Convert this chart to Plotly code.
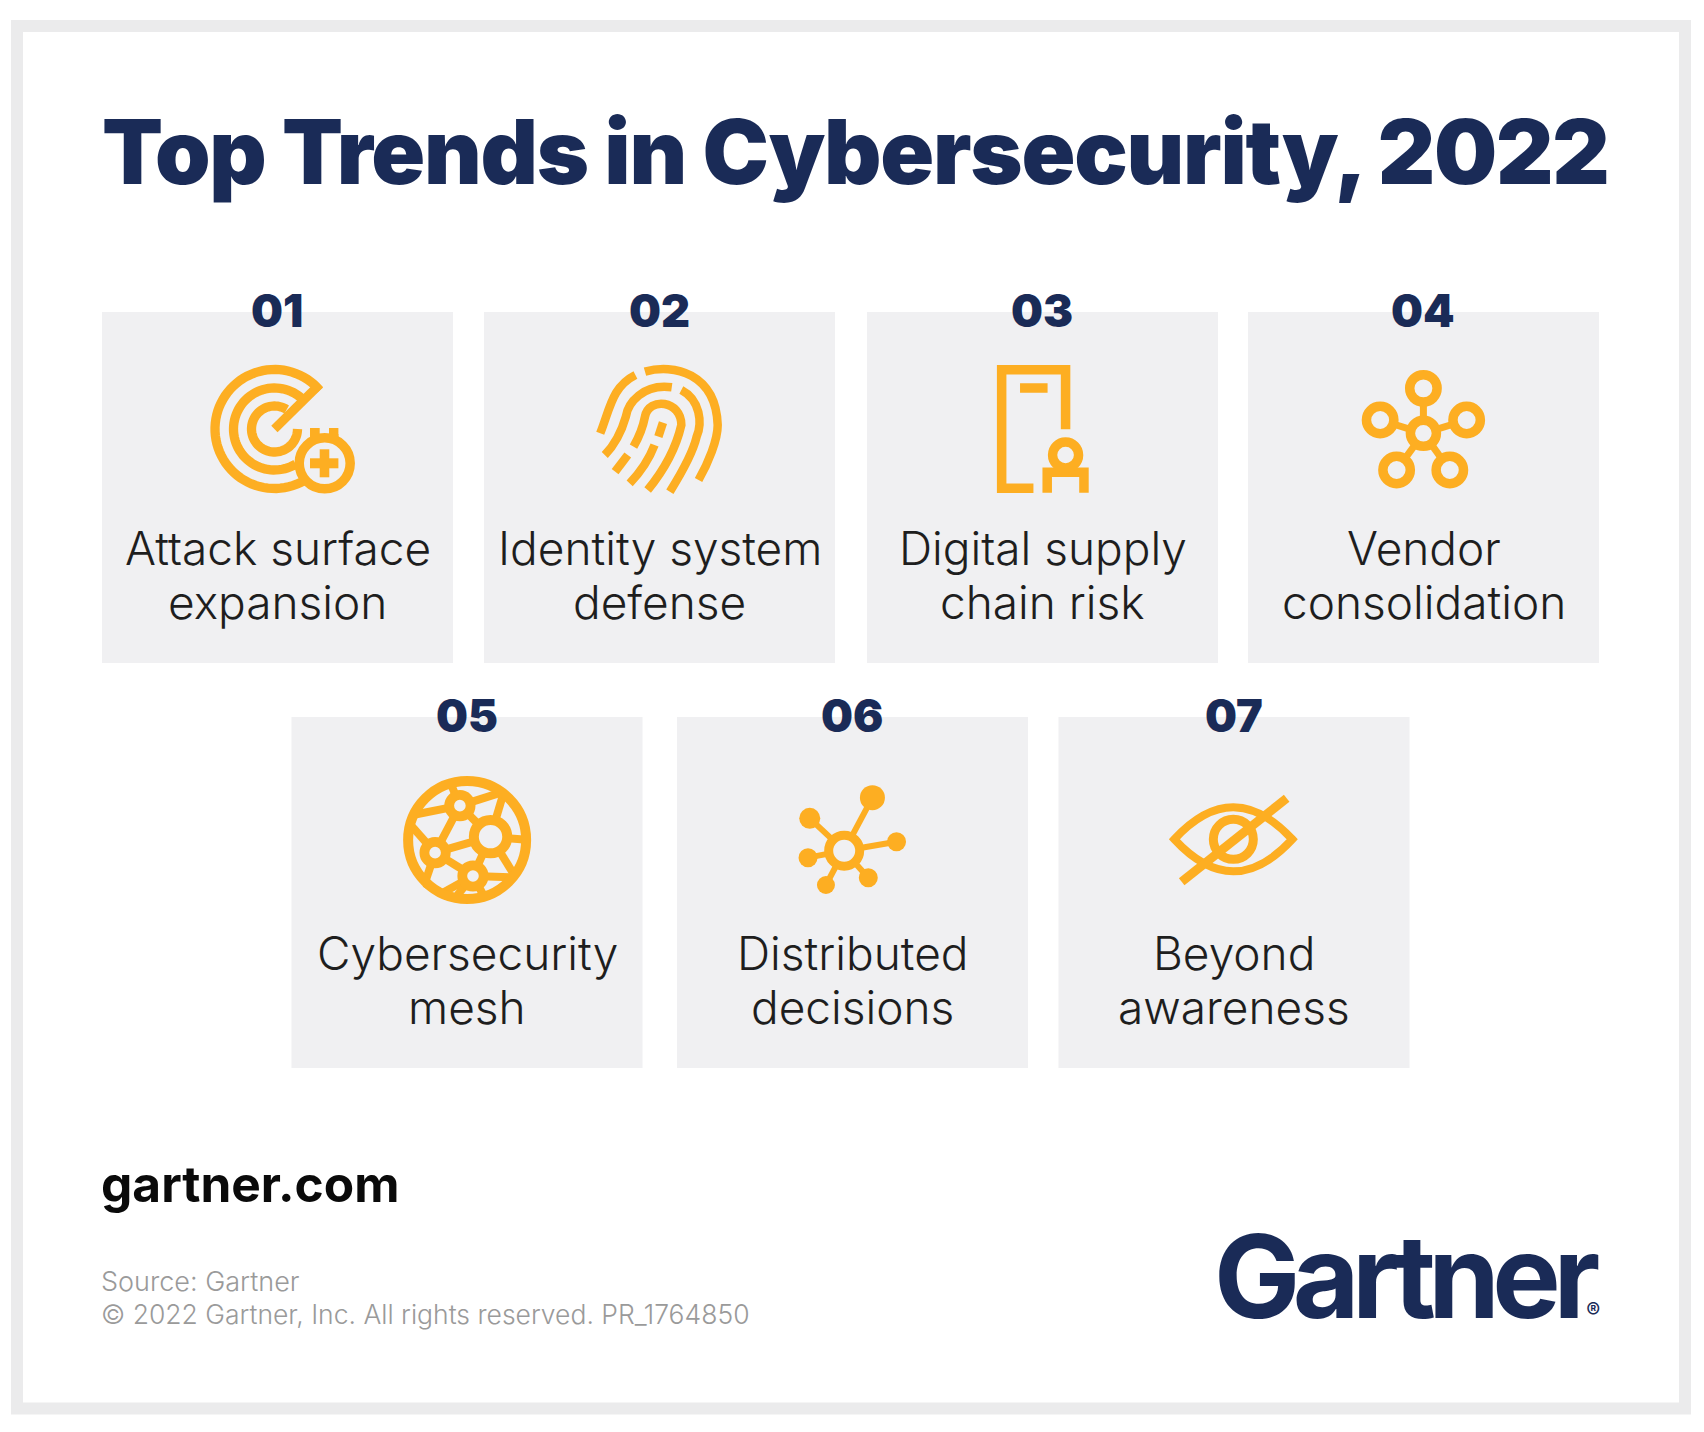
import re
import math
import plotly.graph_objects as go

# ---------- content ----------
TITLE = "Top Trends in Cybersecurity, 2022"
NUMBERS = ["01", "02", "03", "04", "05", "06", "07"]
LABEL_LINE_1 = ["Attack surface", "Identity system", "Digital supply", "Vendor", "Cybersecurity", "Distributed", "Beyond"]
LABEL_LINE_2 = ["expansion", "defense", "chain risk", "consolidation", "mesh", "decisions", "awareness"]
TILE_LEFT = [102, 484, 867, 1248, 291.5, 677, 1058.5]
TILE_TOP = [312, 312, 312, 312, 717, 717, 717]
TILE_SIZE = 351
SITE = "gartner.com"
SOURCE = "Source: Gartner"
COPYRIGHT = "© 2022 Gartner, Inc. All rights reserved. PR_1764850"

NAVY = "#1A2B57"
AMBER = "#FDAE22"
TILE = "#F0F0F2"
FRAME = "#EBEBEC"
GREY = "#9A9A9A"
BODY = "#1E1E1E"

shapes = []


def stroke(path, w=9, fill=None):
    s = dict(type="path", path=path, xref="x", yref="y", line=dict(color=AMBER, width=w), layer="above")
    if fill:
        s["fillcolor"] = fill
    shapes.append(s)


def circle(cx, cy, r, w=9, fill=TILE):
    s = dict(type="circle", xref="x", yref="y", x0=cx - r, x1=cx + r, y0=cy - r, y1=cy + r,
             line=dict(color=AMBER, width=w), layer="above")
    if fill:
        s["fillcolor"] = fill
    shapes.append(s)


def solid(cx, cy, r):
    shapes.append(dict(type="circle", xref="x", yref="y", x0=cx - r, x1=cx + r, y0=cy - r, y1=cy + r,
                       line=dict(width=0), fillcolor=AMBER, layer="above"))


def block(x0, y0, x1, y1):
    shapes.append(dict(type="rect", xref="x", yref="y", x0=x0, x1=x1, y0=y0, y1=y1,
                       line=dict(width=0), fillcolor=AMBER, layer="above"))


def arc(cx, cy, r, a0, a1, w=9):
    n = max(12, int(abs(a1 - a0) / 4))
    pts = []
    for i in range(n + 1):
        a = math.radians(a0 + (a1 - a0) * i / n)
        pts.append(f"{cx + r * math.cos(a):.2f},{cy - r * math.sin(a):.2f}")
    stroke("M " + " L ".join(pts), w)


def conv(path, x0, y0, sx, sy=3.0):
    """Turn a path sketched in crop coordinates into page coordinates."""
    toks = re.findall(r"[A-Za-z]|-?[\d.]+", path)
    out, k = [], 0
    for t in toks:
        if t.isalpha():
            out.append(t)
            k = 0
        else:
            v = float(t)
            out.append(f"{x0 + v / sx:.2f}" if k % 2 == 0 else f"{y0 + v / sy:.2f}")
            k += 1
    return " ".join(out)


# frame and tiles
shapes.append(dict(type="rect", xref="x", yref="y", x0=17, x1=1685, y0=26, y1=1408.5,
                   line=dict(color=FRAME, width=12), fillcolor="white", layer="below"))
for x, y in zip(TILE_LEFT, TILE_TOP):
    shapes.append(dict(type="rect", xref="x", yref="y", x0=x, x1=x + TILE_SIZE, y0=y, y1=y + TILE_SIZE,
                       line=dict(width=0), fillcolor=TILE, layer="below"))

# ---------- icon 1: radar with badge ----------
cx, cy = 274.5, 429
arc(cx, cy, 59.5, 40.5, 300, 9.3)
arc(cx, cy, 41, 42, 301, 9.3)
arc(cx, cy, 23, 58, 360, 9.3)
stroke("M 319.5,384.5 L 274.4,429", 9)
circle(324.7, 463.3, 25.5, 9.5)
block(310, 428, 319.7, 442)
block(329, 428, 338.4, 442)
block(310, 434, 338.4, 440)
block(319.7, 449.3, 329.3, 477.3)
block(310, 458.3, 338.4, 468.3)

# ---------- icon 2: fingerprint ----------
FP = [
    "M 1215 95 C 1290 70 1400 100 1405 255 C 1405 300 1380 370 1355 420",
    "M 1190 105 C 1130 140 1125 200 1098 280",
    "M 1285 142 C 1210 130 1170 190 1165 230 C 1155 270 1140 310 1110 345",
    "M 1310 150 C 1360 180 1365 250 1350 290 C 1340 340 1310 400 1280 455",
    "M 1185 320 C 1200 290 1210 260 1215 230 C 1225 170 1310 180 1310 255 C 1295 330 1265 390 1222 450",
    "M 1262 248 L 1250 290",
    "M 1240 315 C 1225 360 1200 400 1175 430",
    "M 1170 345 L 1137 395",
]
for p in FP:
    stroke(conv(p, 180, 340, 2.613), 8.5)

# ---------- icon 3: door with person ----------
stroke(conv("M 302 268 L 302 89 L 135 89 L 135 445 L 218 445", 950, 340, 2.613), 9.5)
stroke(conv("M 183 144 L 255 144", 950, 340, 2.613), 9.5)
stroke(conv("M 254 458 L 254 397 L 350 397 L 350 458", 950, 340, 2.613), 9.5)
circle(950 + 302 / 2.613, 340 + 345 / 3, 13, 9.4)

# ---------- icon 4: five linked nodes ----------
c4 = (950 + 1237 / 2.613, 340 + 280 / 3)
for zx, zy in [(1237, 145), (1124, 240), (1350, 240), (1167, 390), (1306, 390)]:
    nx, ny = 950 + zx / 2.613, 340 + zy / 3
    stroke(f"M {c4[0]:.2f},{c4[1]:.2f} L {nx:.2f},{ny:.2f}", 7)
    circle(nx, ny, 13.7, 9.5)
circle(c4[0], c4[1], 13, 9.5)

# ---------- icon 5: mesh globe ----------
G = lambda zx, zy: (380 + zx / 2.904, 760 + zy / 3)
EDGES = [
    ((232, 137), (95, 165)), ((232, 137), (205, 70)), ((232, 137), (321, 230)), ((232, 137), (160, 278)),
    ((232, 137), (360, 95)), ((160, 278), (321, 230)), ((321, 230), (360, 95)), ((321, 230), (435, 240)),
    ((321, 230), (270, 348)), ((321, 230), (390, 345)), ((270, 348), (160, 278)), ((160, 278), (85, 190)),
    ((160, 278), (130, 370)), ((270, 348), (180, 400)), ((270, 348), (385, 352)), ((270, 348), (225, 405)),
    ((130, 370), (195, 410)), ((270, 348), (300, 405)),
]
cxg, cyg = G(253, 240)
for a, b in EDGES:
    ax, ay = G(*a)
    bx, by = G(*b)
    stroke(f"M {ax:.2f},{ay:.2f} L {bx:.2f},{by:.2f}", 8)
circle(cxg, cyg, 59, 10, fill=None)
circle(*G(321, 230), 16.7, 10)
for z in [(232, 137), (160, 278), (270, 348)]:
    circle(*G(*z), 10.7, 9.8)

# ---------- icon 6: hub with satellites ----------
H = lambda zx, zy: (380 + zx / 2.904, 760 + zy / 3)
hx, hy = H(1348, 272)
for z, r in [((1430, 113), 12.5), ((1248, 175), 10.5), ((1500, 245), 9.5), ((1243, 293), 9.5),
             ((1418, 353), 9.5), ((1295, 375), 9)]:
    nx, ny = H(*z)
    stroke(f"M {hx:.2f},{hy:.2f} L {nx:.2f},{ny:.2f}", 6)
    solid(nx, ny, r)
circle(hx, hy, 15.5, 9)

# ---------- icon 7: crossed eye ----------
stroke(conv("M 103 208 Q 280 16 457 208 Q 280 400 103 208 Z", 1140, 770, 3.0), 8)
circle(1140 + 280 / 3, 770 + 208 / 3, 20, 9)
stroke(conv("M 125 335 L 440 85", 1140, 770, 3.0), 9)

# ---------- text ----------
ann = []


def text(x, y, s, size, color, anchor="center", weight=400, family="Inter", spacing=None):
    if spacing is not None:
        s = f'<span style="letter-spacing:{spacing}px">{s}</span>'
    ann.append(dict(x=x, y=y, xref="x", yref="y", text=s, showarrow=False, xanchor=anchor, yanchor="middle",
                    align=anchor, font=dict(family=family, size=size, color=color, weight=weight)))


text(100, 151.5, TITLE, 89, NAVY, "left", 900, spacing=-1.25)
for i, n in enumerate(NUMBERS):
    mid = TILE_LEFT[i] + TILE_SIZE / 2
    text(mid - 0.5, TILE_TOP[i] - 2, n, 45, NAVY, "center", 900)
    text(mid, TILE_TOP[i] + 236, LABEL_LINE_1[i], 46, BODY, "center", 300)
    text(mid, TILE_TOP[i] + 290, LABEL_LINE_2[i], 46, BODY, "center", 300)
text(99, 1184, SITE, 49.6, "#0A0A0A", "left", 700)
text(99, 1281, SOURCE, 27, GREY, "left", 300)
text(99, 1314, COPYRIGHT, 26.5, GREY, "left", 300)
LOGO_TEXT = ('<span style="letter-spacing:-7.5px">Gartne</span>'
             '<span style="letter-spacing:-14px">r</span>'
             '<span style="font-size:21px;font-weight:600">®</span>')
text(1602, 1276, LOGO_TEXT, 115, NAVY, "right", 700)

fig = go.Figure()
fig.update_layout(
    width=1704, height=1432, autosize=False,
    margin=dict(l=0, r=0, t=0, b=0, pad=0),
    paper_bgcolor="white", plot_bgcolor="white", showlegend=False,
    xaxis=dict(range=[0, 1704], visible=False, fixedrange=True),
    yaxis=dict(range=[1432, 0], visible=False, fixedrange=True),
    shapes=shapes, annotations=ann,
)
fig.write_html("out.html", config=dict(displayModeBar=False),
               post_script="document.body.style.margin='0';")
